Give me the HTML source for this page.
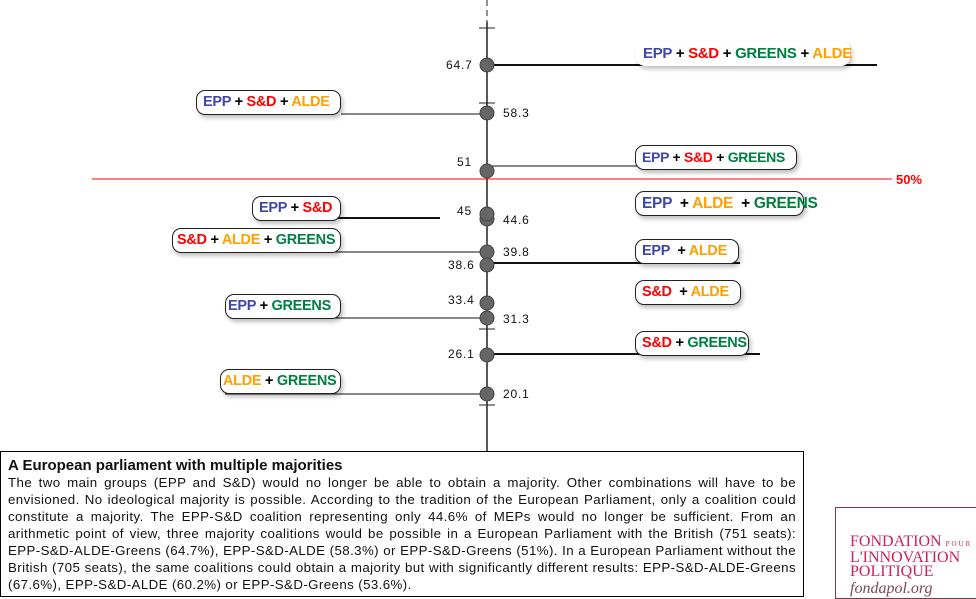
<!DOCTYPE html>
<html><head><meta charset="utf-8"><style>
body{margin:0;width:976px;height:597px;background:#fff;position:relative;overflow:hidden;font-family:"Liberation Sans",sans-serif}
.lb{position:absolute;border:1px solid #222;border-radius:9px;background:#fff;box-shadow:2px 3px 4px rgba(0,0,0,.25);font-weight:bold;font-size:14.5px;letter-spacing:-0.3px;line-height:23px;padding-left:6px;white-space:nowrap;box-sizing:border-box;height:25px}
.b{color:#3f48a8}.r{color:#f00}.o{color:#ffa000}.g{color:#008040}.k{color:#000}
.v{position:absolute;font-size:12px;letter-spacing:.8px;color:#111}
#tx{position:absolute;left:0;top:451px;width:804px;height:146px;border:1px solid #000;box-sizing:border-box;padding:5px 7px;font-size:13.3px;letter-spacing:0.4px;line-height:17px;text-align:justify;color:#111}
#tx b{font-size:15px;display:block;line-height:17px;letter-spacing:0}
#logo{position:absolute;left:835px;top:507px;width:145px;height:92px;border:1px solid #7a3a4a;box-sizing:border-box;font-family:"Liberation Serif",serif;color:#c8245a;padding:27px 0 0 14px;font-size:16px;line-height:14px}
</style></head><body>
<svg width="976" height="597" style="position:absolute;left:0;top:0">
<line x1="487" y1="0" x2="487" y2="22" stroke="#222" stroke-dasharray="6,4"/>
<line x1="487" y1="22" x2="487" y2="451" stroke="#222" stroke-width="1.5"/>
<g stroke="#222"><line x1="479" y1="28" x2="495" y2="28"/><line x1="479" y1="103" x2="495" y2="103"/><line x1="479" y1="329" x2="495" y2="329"/><line x1="479" y1="405" x2="495" y2="405"/></g>
<line x1="92" y1="179" x2="892" y2="179" stroke="#f00" stroke-width="1"/>
<g stroke="#111">
<line x1="487" y1="65" x2="877" y2="65" stroke-width="2"/>
<line x1="341" y1="114" x2="487" y2="114"/>
<line x1="487" y1="166" x2="790" y2="166"/>
<line x1="257" y1="218" x2="440" y2="218" stroke-width="2"/>
<line x1="330" y1="252" x2="487" y2="252"/>
<line x1="487" y1="263" x2="740" y2="263" stroke-width="2"/>
<line x1="230" y1="318" x2="487" y2="318"/>
<line x1="487" y1="354" x2="760" y2="354" stroke-width="2"/>
<line x1="225" y1="394" x2="487" y2="394"/>
</g>
<g fill="#666" stroke="#444">
<circle cx="487" cy="65" r="7"/><circle cx="487" cy="113" r="7"/><circle cx="487" cy="171" r="7"/>
<circle cx="487" cy="219" r="7"/><circle cx="487" cy="214" r="7"/><circle cx="487" cy="252" r="7"/>
<circle cx="487" cy="265" r="7"/><circle cx="487" cy="303" r="7"/><circle cx="487" cy="318" r="7"/>
<circle cx="487" cy="355" r="7"/><circle cx="487" cy="394" r="7"/>
</g>
<text x="896" y="184" fill="#f00" font-weight="bold" font-size="13" font-family="Liberation Sans">50%</text>
</svg>
<div class="v" style="left:446px;top:58px">64.7</div>
<div class="v" style="left:503px;top:106px">58.3</div>
<div class="v" style="left:457px;top:155px">51</div>
<div class="v" style="left:457px;top:204px">45</div>
<div class="v" style="left:503px;top:213px">44.6</div>
<div class="v" style="left:503px;top:245px">39.8</div>
<div class="v" style="left:448px;top:258px">38.6</div>
<div class="v" style="left:448px;top:293px">33.4</div>
<div class="v" style="left:503px;top:312px">31.3</div>
<div class="v" style="left:448px;top:347px">26.1</div>
<div class="v" style="left:503px;top:387px">20.1</div>

<div class="lb" style="left:636px;top:41px;width:214px;border-color:transparent;font-size:15px"><span class="b">EPP</span> <span class="k">+</span> <span class="r">S&amp;D</span> <span class="k">+</span> <span class="g">GREENS</span> <span class="k">+</span> <span class="o">ALDE</span></div>
<div class="lb" style="left:196px;top:90px;width:145px"><span class="b">EPP</span> <span class="k">+</span> <span class="r">S&amp;D</span> <span class="k">+</span> <span class="o">ALDE</span></div>
<div class="lb" style="left:635px;top:145px;width:162px;font-size:14px"><span class="b">EPP</span> <span class="k">+</span> <span class="r">S&amp;D</span> <span class="k">+</span> <span class="g">GREENS</span></div>
<div class="lb" style="left:635px;top:191px;width:169px;font-size:15.5px"><span class="b">EPP</span> &nbsp;<span class="k">+</span> <span class="o">ALDE</span> &nbsp;<span class="k">+</span> <span class="g">GREENS</span></div>
<div class="lb" style="left:252px;top:196px;width:89px"><span class="b">EPP</span> <span class="k">+</span> <span class="r">S&amp;D</span></div>
<div class="lb" style="left:172px;top:228px;width:169px;padding-left:4px"><span class="r">S&amp;D</span> <span class="k">+</span> <span class="o">ALDE</span> <span class="k">+</span> <span class="g">GREENS</span></div>
<div class="lb" style="left:635px;top:239px;width:104px"><span class="b">EPP</span> &nbsp;<span class="k">+</span> <span class="o">ALDE</span></div>
<div class="lb" style="left:635px;top:280px;width:106px"><span class="r">S&amp;D</span> &nbsp;<span class="k">+</span> <span class="o">ALDE</span></div>
<div class="lb" style="left:225px;top:294px;width:116px;padding-left:2px"><span class="b">EPP</span> <span class="k">+</span> <span class="g">GREENS</span></div>
<div class="lb" style="left:635px;top:331px;width:114px"><span class="r">S&amp;D</span> <span class="k">+</span> <span class="g">GREENS</span></div>
<div class="lb" style="left:220px;top:369px;width:121px;padding-left:2px"><span class="o">ALDE</span> <span class="k">+</span> <span class="g">GREENS</span></div>

<div id="tx"><b>A European parliament with multiple majorities</b>The two main groups (EPP and S&amp;D) would no longer be able to obtain a majority. Other combinations will have to be envisioned. No ideological majority is possible. According to the tradition of the European Parliament, only a coalition could constitute a majority. The EPP-S&amp;D coalition representing only 44.6% of MEPs would no longer be sufficient. From an arithmetic point of view, three majority coalitions would be possible in a European Parliament with the British (751 seats): EPP-S&amp;D-ALDE-Greens (64.7%), EPP-S&amp;D-ALDE (58.3%) or EPP-S&amp;D-Greens (51%). In a European Parliament without the British (705 seats), the same coalitions could obtain a majority but with significantly different results: EPP-S&amp;D-ALDE-Greens (67.6%), EPP-S&amp;D-ALDE (60.2%) or EPP-S&amp;D-Greens (53.6%).</div>
<div id="logo">FONDATION <span style="font-size:7px;letter-spacing:2px">POUR</span><br>L'INNOVATION<br>POLITIQUE<br><i style="color:#7a4a5a;font-size:16px;line-height:20px">fondapol.org</i></div>
</body></html>
